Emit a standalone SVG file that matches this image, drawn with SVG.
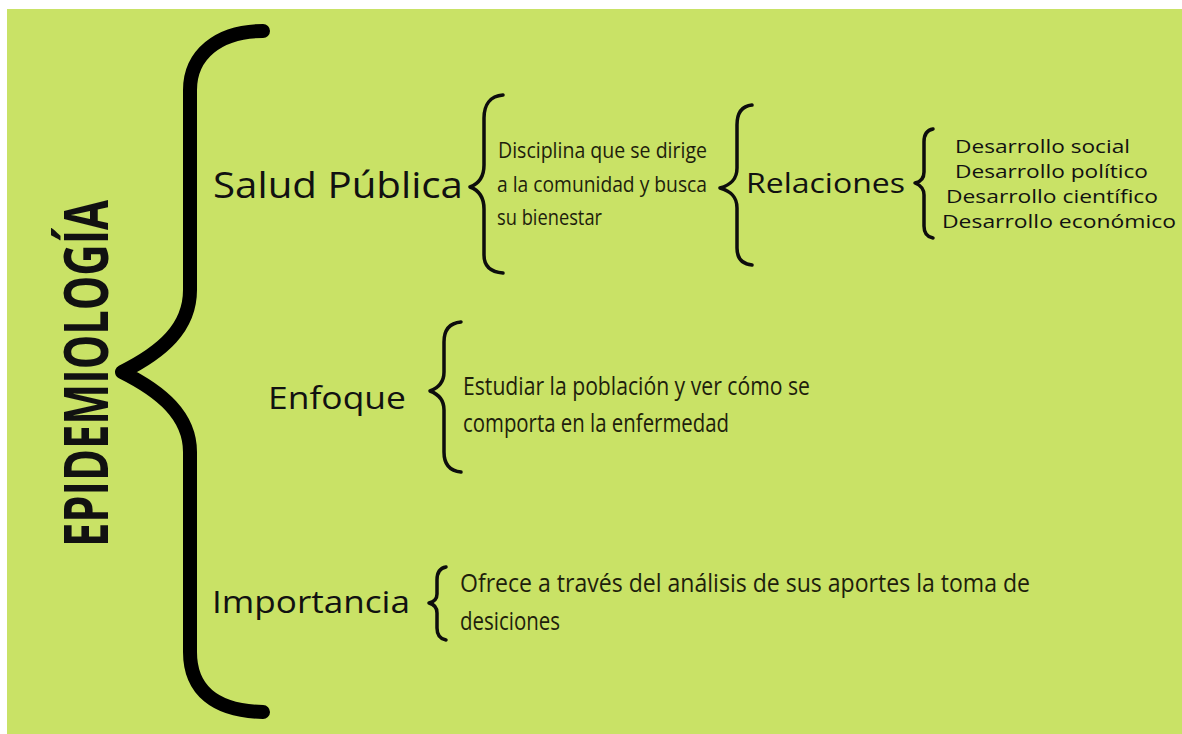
<svg xmlns="http://www.w3.org/2000/svg" width="1182" height="734" viewBox="0 0 1182 734">
<style>
.big{fill:none;stroke:#000;stroke-width:14;stroke-linecap:round;stroke-linejoin:round}
.br{fill:none;stroke:#0d0d0d;stroke-width:3.5;stroke-linecap:round;stroke-linejoin:round}
.lab{font-family:"Open Sans","Noto Sans",sans-serif;fill:#111}
.hw{font-family:"Open Sans","Noto Sans",sans-serif;fill:#1e1e0c;font-weight:400}
.dev{font-family:"Open Sans","Noto Sans",sans-serif;fill:#111;font-size:19px}
</style>
<rect x="0" y="0" width="1182" height="734" fill="#ffffff"/>
<rect x="7" y="9" width="1175" height="725" fill="#c9e266"/>

<g id="title">
<text class="lab" transform="translate(108,547) rotate(-90)" font-size="60" font-weight="700" textLength="347" lengthAdjust="spacingAndGlyphs" fill="#000">EPIDEMIOLOGÍA</text>
</g>

<g id="connectors">
<path class="big" d="M263,31 C218,31 190,55 190,90 L190,290 C190,328 162,352 122,372 C162,392 190,416 190,452 L190,652 C190,690 215,711 263,712"/>
<path class="br" d="M503,95 C490,96 484,105 484,118 L484,165 C484,178 478,184 470,187 C478,190 484,196 484,209 L484,255 C484,266 490,272 503,273"/>
<path class="br" d="M752,105 C742,106 737,113 737,125 L737,168 C737,180 730,185 720,188 C730,191 737,196 737,208 L737,248 C737,258 742,264 752,265"/>
<path class="br" stroke-width="2.5" d="M933,129 C927,130 924,134 924,142 L924,172 C924,179 920,182 915,183 C920,185 924,188 924,195 L924,226 C924,233 927,237 933,238"/>
<path class="br" d="M461,322 C450,323 444,330 444,342 L444,372 C444,383 438,388 430,391 C438,394 444,399 444,410 L444,452 C444,464 450,471 461,472"/>
<path class="br" stroke-width="2.5" d="M446,567 C440,568 437,572 437,580 L437,594 C437,600 433,602 429,603 C433,604 437,607 437,613 L437,628 C437,635 440,639 446,640"/>
</g>

<g id="salud">
<text class="lab" x="213" y="198" font-size="36" textLength="250" lengthAdjust="spacingAndGlyphs">Salud Pública</text>
</g>
<g id="salud-def">
<text class="hw" x="498" y="158" font-size="22" textLength="209" lengthAdjust="spacingAndGlyphs">Disciplina que se dirige</text>
<text class="hw" x="497" y="192" font-size="22" textLength="210" lengthAdjust="spacingAndGlyphs">a la comunidad y busca</text>
<text class="hw" x="497" y="225" font-size="22" textLength="105" lengthAdjust="spacingAndGlyphs">su bienestar</text>
</g>
<g id="relaciones">
<text class="lab" x="746" y="193" font-size="28" textLength="159" lengthAdjust="spacingAndGlyphs">Relaciones</text>
</g>
<g id="desarrollo">
<text class="dev" x="955" y="153" textLength="175" lengthAdjust="spacingAndGlyphs">Desarrollo social</text>
<text class="dev" x="955" y="178" textLength="193" lengthAdjust="spacingAndGlyphs">Desarrollo político</text>
<text class="dev" x="946" y="203" textLength="212" lengthAdjust="spacingAndGlyphs">Desarrollo científico</text>
<text class="dev" x="942" y="228" textLength="234" lengthAdjust="spacingAndGlyphs">Desarrollo económico</text>
</g>
<g id="enfoque">
<text class="lab" x="268" y="409" font-size="31" textLength="138" lengthAdjust="spacingAndGlyphs">Enfoque</text>
</g>
<g id="enfoque-def">
<text class="hw" x="463" y="395" font-size="25" textLength="347" lengthAdjust="spacingAndGlyphs">Estudiar la población y ver cómo se</text>
<text class="hw" x="463" y="432" font-size="25" textLength="266" lengthAdjust="spacingAndGlyphs">comporta en la enfermedad</text>
</g>
<g id="importancia">
<text class="lab" x="212" y="613" font-size="31" textLength="198" lengthAdjust="spacingAndGlyphs">Importancia</text>
</g>
<g id="importancia-def">
<text class="hw" x="460" y="592" font-size="25" textLength="570" lengthAdjust="spacingAndGlyphs">Ofrece a través del análisis de sus aportes la toma de</text>
<text class="hw" x="460" y="630" font-size="25" textLength="100" lengthAdjust="spacingAndGlyphs">desiciones</text>
</g>
</svg>
